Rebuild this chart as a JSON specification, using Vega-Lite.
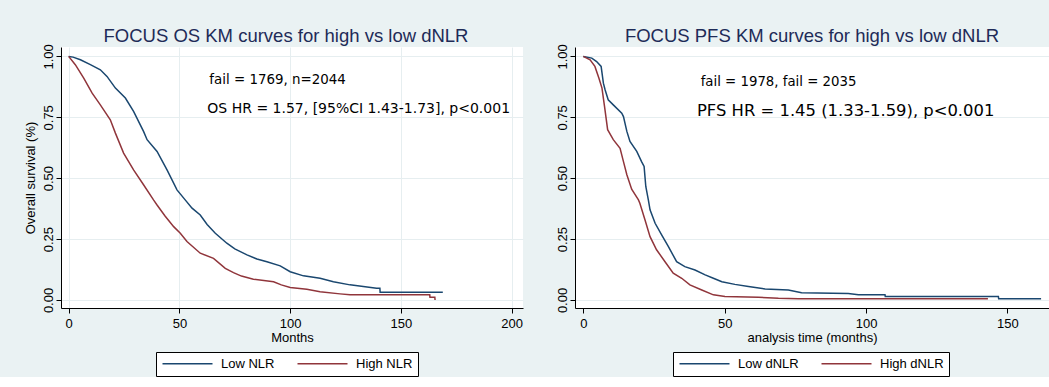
{
  "$schema": "https://vega.github.io/schema/vega-lite/v6.json",
  "background": "#EAF2F3",
  "padding": {"left": 23, "top": 26, "right": 0, "bottom": 0},
  "bounds": "flush",
  "spacing": 52,
  "datasets": {
    "os": [
      {"months": 0, "surv": 1.0, "group": "Low NLR"},
      {"months": 2, "surv": 0.997, "group": "Low NLR"},
      {"months": 5.3, "surv": 0.986, "group": "Low NLR"},
      {"months": 9.8, "surv": 0.966, "group": "Low NLR"},
      {"months": 14.3, "surv": 0.945, "group": "Low NLR"},
      {"months": 17.3, "surv": 0.918, "group": "Low NLR"},
      {"months": 21.1, "surv": 0.87, "group": "Low NLR"},
      {"months": 25.6, "surv": 0.829, "group": "Low NLR"},
      {"months": 29.3, "surv": 0.774, "group": "Low NLR"},
      {"months": 33.8, "surv": 0.692, "group": "Low NLR"},
      {"months": 35.4, "surv": 0.658, "group": "Low NLR"},
      {"months": 39.9, "surv": 0.61, "group": "Low NLR"},
      {"months": 44.4, "surv": 0.534, "group": "Low NLR"},
      {"months": 48.9, "surv": 0.452, "group": "Low NLR"},
      {"months": 52.6, "surv": 0.411, "group": "Low NLR"},
      {"months": 55.7, "surv": 0.377, "group": "Low NLR"},
      {"months": 59.4, "surv": 0.349, "group": "Low NLR"},
      {"months": 62.5, "surv": 0.31, "group": "Low NLR"},
      {"months": 66.2, "surv": 0.274, "group": "Low NLR"},
      {"months": 71.4, "surv": 0.233, "group": "Low NLR"},
      {"months": 75, "surv": 0.21, "group": "Low NLR"},
      {"months": 80.5, "surv": 0.185, "group": "Low NLR"},
      {"months": 85, "surv": 0.168, "group": "Low NLR"},
      {"months": 89.5, "surv": 0.157, "group": "Low NLR"},
      {"months": 95.5, "surv": 0.14, "group": "Low NLR"},
      {"months": 100, "surv": 0.116, "group": "Low NLR"},
      {"months": 106, "surv": 0.099, "group": "Low NLR"},
      {"months": 113.5, "surv": 0.089, "group": "Low NLR"},
      {"months": 119.5, "surv": 0.075, "group": "Low NLR"},
      {"months": 127, "surv": 0.062, "group": "Low NLR"},
      {"months": 133, "surv": 0.055, "group": "Low NLR"},
      {"months": 139, "surv": 0.048, "group": "Low NLR"},
      {"months": 140.5, "surv": 0.048, "group": "Low NLR"},
      {"months": 140.6, "surv": 0.032, "group": "Low NLR"},
      {"months": 168.9, "surv": 0.032, "group": "Low NLR"},
      {"months": 0, "surv": 1.0, "group": "High NLR"},
      {"months": 3, "surv": 0.966, "group": "High NLR"},
      {"months": 6.8, "surv": 0.911, "group": "High NLR"},
      {"months": 10.6, "surv": 0.849, "group": "High NLR"},
      {"months": 14.3, "surv": 0.801, "group": "High NLR"},
      {"months": 18.8, "surv": 0.74, "group": "High NLR"},
      {"months": 21.1, "surv": 0.685, "group": "High NLR"},
      {"months": 24.8, "surv": 0.603, "group": "High NLR"},
      {"months": 29.3, "surv": 0.534, "group": "High NLR"},
      {"months": 33.8, "surv": 0.473, "group": "High NLR"},
      {"months": 38.3, "surv": 0.411, "group": "High NLR"},
      {"months": 39.9, "surv": 0.39, "group": "High NLR"},
      {"months": 43.5, "surv": 0.345, "group": "High NLR"},
      {"months": 47.4, "surv": 0.301, "group": "High NLR"},
      {"months": 50.4, "surv": 0.274, "group": "High NLR"},
      {"months": 53.4, "surv": 0.24, "group": "High NLR"},
      {"months": 59.4, "surv": 0.192, "group": "High NLR"},
      {"months": 65.4, "surv": 0.171, "group": "High NLR"},
      {"months": 70.7, "surv": 0.13, "group": "High NLR"},
      {"months": 74.4, "surv": 0.112, "group": "High NLR"},
      {"months": 78, "surv": 0.098, "group": "High NLR"},
      {"months": 83.4, "surv": 0.085, "group": "High NLR"},
      {"months": 92.5, "surv": 0.075, "group": "High NLR"},
      {"months": 96, "surv": 0.062, "group": "High NLR"},
      {"months": 100, "surv": 0.051, "group": "High NLR"},
      {"months": 107.5, "surv": 0.044, "group": "High NLR"},
      {"months": 113.5, "surv": 0.034, "group": "High NLR"},
      {"months": 122.5, "surv": 0.025, "group": "High NLR"},
      {"months": 127, "surv": 0.021, "group": "High NLR"},
      {"months": 163, "surv": 0.021, "group": "High NLR"},
      {"months": 163.1, "surv": 0.011, "group": "High NLR"},
      {"months": 165.3, "surv": 0.011, "group": "High NLR"},
      {"months": 165.4, "surv": 0.0, "group": "High NLR"}
    ],
    "pfs": [
      {"months": 0, "surv": 1.0, "group": "Low dNLR"},
      {"months": 3, "surv": 0.993, "group": "Low dNLR"},
      {"months": 4.7, "surv": 0.979, "group": "Low dNLR"},
      {"months": 6.3, "surv": 0.959, "group": "Low dNLR"},
      {"months": 7.1, "surv": 0.89, "group": "Low dNLR"},
      {"months": 7.7, "surv": 0.863, "group": "Low dNLR"},
      {"months": 8.8, "surv": 0.822, "group": "Low dNLR"},
      {"months": 10.6, "surv": 0.801, "group": "Low dNLR"},
      {"months": 13.6, "surv": 0.767, "group": "Low dNLR"},
      {"months": 14.2, "surv": 0.753, "group": "Low dNLR"},
      {"months": 15.4, "surv": 0.692, "group": "Low dNLR"},
      {"months": 16.5, "surv": 0.651, "group": "Low dNLR"},
      {"months": 18.9, "surv": 0.61, "group": "Low dNLR"},
      {"months": 20.6, "surv": 0.568, "group": "Low dNLR"},
      {"months": 21.5, "surv": 0.548, "group": "Low dNLR"},
      {"months": 22.1, "surv": 0.466, "group": "Low dNLR"},
      {"months": 23.0, "surv": 0.411, "group": "Low dNLR"},
      {"months": 23.6, "surv": 0.37, "group": "Low dNLR"},
      {"months": 25.4, "surv": 0.315, "group": "Low dNLR"},
      {"months": 27.7, "surv": 0.267, "group": "Low dNLR"},
      {"months": 30.1, "surv": 0.219, "group": "Low dNLR"},
      {"months": 33.0, "surv": 0.157, "group": "Low dNLR"},
      {"months": 35.9, "surv": 0.137, "group": "Low dNLR"},
      {"months": 39.5, "surv": 0.123, "group": "Low dNLR"},
      {"months": 43.1, "surv": 0.103, "group": "Low dNLR"},
      {"months": 46.0, "surv": 0.089, "group": "Low dNLR"},
      {"months": 49.0, "surv": 0.075, "group": "Low dNLR"},
      {"months": 53.6, "surv": 0.064, "group": "Low dNLR"},
      {"months": 58.4, "surv": 0.055, "group": "Low dNLR"},
      {"months": 64.3, "surv": 0.045, "group": "Low dNLR"},
      {"months": 72.5, "surv": 0.041, "group": "Low dNLR"},
      {"months": 77.2, "surv": 0.03, "group": "Low dNLR"},
      {"months": 93.7, "surv": 0.027, "group": "Low dNLR"},
      {"months": 97.3, "surv": 0.021, "group": "Low dNLR"},
      {"months": 106.7, "surv": 0.021, "group": "Low dNLR"},
      {"months": 106.8, "surv": 0.014, "group": "Low dNLR"},
      {"months": 146.8, "surv": 0.014, "group": "Low dNLR"},
      {"months": 146.9, "surv": 0.005, "group": "Low dNLR"},
      {"months": 161.9, "surv": 0.005, "group": "Low dNLR"},
      {"months": 0, "surv": 1.0, "group": "High dNLR"},
      {"months": 2.4, "surv": 0.986, "group": "High dNLR"},
      {"months": 4.1, "surv": 0.959, "group": "High dNLR"},
      {"months": 5.5, "surv": 0.911, "group": "High dNLR"},
      {"months": 6.6, "surv": 0.87, "group": "High dNLR"},
      {"months": 7.5, "surv": 0.795, "group": "High dNLR"},
      {"months": 8.6, "surv": 0.699, "group": "High dNLR"},
      {"months": 10.6, "surv": 0.658, "group": "High dNLR"},
      {"months": 13.0, "surv": 0.623, "group": "High dNLR"},
      {"months": 14.2, "surv": 0.568, "group": "High dNLR"},
      {"months": 15.4, "surv": 0.514, "group": "High dNLR"},
      {"months": 17.1, "surv": 0.455, "group": "High dNLR"},
      {"months": 19.5, "surv": 0.411, "group": "High dNLR"},
      {"months": 20.0, "surv": 0.397, "group": "High dNLR"},
      {"months": 21.8, "surv": 0.329, "group": "High dNLR"},
      {"months": 23.6, "surv": 0.26, "group": "High dNLR"},
      {"months": 25.9, "surv": 0.206, "group": "High dNLR"},
      {"months": 28.9, "surv": 0.157, "group": "High dNLR"},
      {"months": 31.8, "surv": 0.11, "group": "High dNLR"},
      {"months": 34.8, "surv": 0.089, "group": "High dNLR"},
      {"months": 37.7, "surv": 0.062, "group": "High dNLR"},
      {"months": 41.9, "surv": 0.041, "group": "High dNLR"},
      {"months": 46.0, "surv": 0.021, "group": "High dNLR"},
      {"months": 50.1, "surv": 0.014, "group": "High dNLR"},
      {"months": 61.9, "surv": 0.011, "group": "High dNLR"},
      {"months": 69.0, "surv": 0.007, "group": "High dNLR"},
      {"months": 76.1, "surv": 0.005, "group": "High dNLR"},
      {"months": 143.1, "surv": 0.005, "group": "High dNLR"}
    ]
  },
  "hconcat": [
    {
      "width": 462,
      "height": 261,
      "title": {"text": "FOCUS OS KM curves for high vs low dNLR", "dx": -6},
      "layer": [
        {
          "data": {"name": "os"},
          "mark": {"type": "line", "strokeWidth": 1.5},
          "encoding": {
            "x": {"field": "months", "type": "quantitative",
                  "scale": {"domain": [-3.46, 205.1], "nice": false, "zero": false},
                  "axis": {"values": [0, 50, 100, 150, 200], "title": "Months", "grid": true}},
            "y": {"field": "surv", "type": "quantitative",
                  "scale": {"domain": [-0.033, 1.0386], "nice": false, "zero": false},
                  "axis": {"values": [0, 0.25, 0.5, 0.75, 1], "format": ".2f", "title": "Overall survival (%)", "grid": true}},
            "color": {"field": "group", "type": "nominal",
                      "scale": {"domain": ["Low NLR", "High NLR"], "range": ["#1A476F", "#90353B"]},
                      "legend": {"orient": "none", "legendX": 95, "legendY": 305}}
          }
        },
        {
          "data": {"values": [{}]},
          "mark": {"type": "text", "text": "fail = 1769, n=2044", "font": "DejaVu Sans", "fontSize": 13.4, "align": "left", "baseline": "alphabetic", "color": "black"},
          "encoding": {"x": {"datum": 63.5}, "y": {"datum": 0.886}}
        },
        {
          "data": {"values": [{}]},
          "mark": {"type": "text", "text": "OS HR = 1.57, [95%CI 1.43-1.73], p<0.001", "font": "DejaVu Sans", "fontSize": 14, "align": "left", "baseline": "alphabetic", "color": "black"},
          "encoding": {"x": {"datum": 62.6}, "y": {"datum": 0.767}}
        }
      ]
    },
    {
      "width": 474,
      "height": 261,
      "title": {"text": "FOCUS PFS KM curves for high vs low dNLR"},
      "layer": [
        {
          "data": {"name": "pfs"},
          "mark": {"type": "line", "strokeWidth": 1.5},
          "encoding": {
            "x": {"field": "months", "type": "quantitative",
                  "scale": {"domain": [-2.94, 164.7], "nice": false, "zero": false},
                  "axis": {"values": [0, 50, 100, 150], "title": "analysis time (months)", "grid": false}},
            "y": {"field": "surv", "type": "quantitative",
                  "scale": {"domain": [-0.033, 1.0386], "nice": false, "zero": false},
                  "axis": {"values": [0, 0.25, 0.5, 0.75, 1], "format": ".2f", "title": null, "grid": true}},
            "color": {"field": "group", "type": "nominal",
                      "scale": {"domain": ["Low dNLR", "High dNLR"], "range": ["#1A476F", "#90353B"]},
                      "legend": {"orient": "none", "legendX": 98, "legendY": 305}}
          }
        },
        {
          "data": {"values": [{}]},
          "mark": {"type": "text", "text": "fail = 1978, fail = 2035", "font": "DejaVu Sans", "fontSize": 13.3, "align": "left", "baseline": "alphabetic", "color": "black"},
          "encoding": {"x": {"datum": 41.5}, "y": {"datum": 0.877}}
        },
        {
          "data": {"values": [{}]},
          "mark": {"type": "text", "text": "PFS HR = 1.45 (1.33-1.59), p<0.001", "font": "DejaVu Sans", "fontSize": 16.4, "align": "left", "baseline": "alphabetic", "color": "black"},
          "encoding": {"x": {"datum": 40.2}, "y": {"datum": 0.756}}
        }
      ]
    }
  ],
  "resolve": {"scale": {"color": "independent", "x": "independent", "y": "independent"}},
  "config": {
    "font": "Liberation Sans",
    "view": {"stroke": null, "fill": "white"},
    "axis": {
      "domainColor": "black",
      "domainWidth": 1,
      "tickColor": "black",
      "tickSize": 5,
      "labelFont": "Liberation Sans",
      "labelFontSize": 13,
      "labelColor": "black",
      "titleFont": "Liberation Sans",
      "titleFontSize": 13,
      "titleFontWeight": "normal",
      "titleColor": "black",
      "gridColor": "#E6EEF0",
      "gridWidth": 1
    },
    "axisY": {"labelAngle": 270, "labelAlign": "center", "labelBaseline": "alphabetic", "labelPadding": 4, "titlePadding": 5},
    "axisX": {"labelPadding": 4, "titlePadding": 1},
    "legend": {
      "direction": "horizontal",
      "title": null,
      "symbolType": "M-1,0H9",
      "symbolSize": 100,
      "symbolStrokeWidth": 1.3,
      "symbolFillColor": "transparent",
      "labelFont": "Liberation Sans",
      "labelFontSize": 13,
      "labelColor": "black",
      "labelOffset": 47,
      "columnPadding": 19,
      "padding": 5,
      "strokeColor": "black",
      "fillColor": "white"
    },
    "title": {
      "font": "Liberation Sans",
      "fontSize": 18.5,
      "fontWeight": "normal",
      "color": "#1E2B58",
      "anchor": "middle",
      "frame": "group",
      "offset": -1.4
    }
  }
}
